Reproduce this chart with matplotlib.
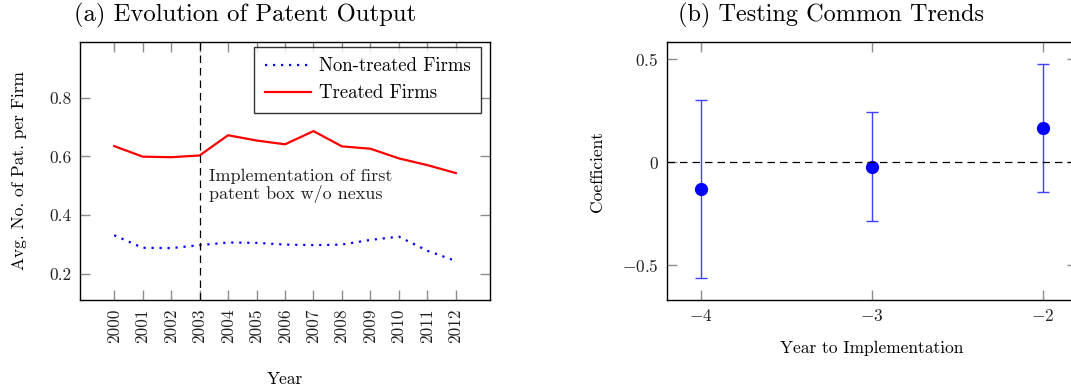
import matplotlib
matplotlib.use("Agg")
import matplotlib.pyplot as plt
import numpy as np

plt.rcParams["font.family"] = "serif"
plt.rcParams["font.serif"] = ["cmr10", "DejaVu Serif"]
plt.rcParams["mathtext.fontset"] = "cm"
plt.rcParams["axes.formatter.use_mathtext"] = True

# Panel (a) data
years = [2000, 2001, 2002, 2003, 2004, 2005, 2006, 2007, 2008, 2009, 2010, 2011, 2012]
non_treated = [0.331, 0.288, 0.287, 0.297, 0.306, 0.305, 0.299, 0.297, 0.299, 0.315, 0.326, 0.278, 0.243]
treated = [0.635, 0.599, 0.597, 0.603, 0.672, 0.654, 0.641, 0.686, 0.634, 0.626, 0.593, 0.570, 0.543]
impl_year = 2003

# Panel (b) data
rel_year = [-4, -3, -2]
coef = [-0.131, -0.021, 0.168]
ci_low = [-0.563, -0.285, -0.144]
ci_high = [0.302, 0.242, 0.479]

W, H = 1071, 388
fig = plt.figure(figsize=(W / 100, H / 100), dpi=100)

tick_grey = "#8c8c8c"
fs = 12.5


def style_axes(ax):
    ax.tick_params(direction="in", length=7.5, width=1, color=tick_grey,
                   top=True, right=True, labelsize=fs, labelcolor="#222222", pad=6)
    for s in ax.spines.values():
        s.set_linewidth(1.0)


# ---- panel (a)
ax1 = fig.add_axes([80 / W, 1 - 300 / H, 410 / W, 258 / H])
ax1.plot(years, non_treated, color="blue", lw=1.6, linestyle=(0, (1, 2.6)),
         label="Non-treated Firms")
ax1.plot(years, treated, color="red", lw=1.6, label="Treated Firms")
ax1.axvline(impl_year, color="black", lw=0.9, linestyle=(0, (6, 4)))
ax1.text(impl_year + 0.33, 0.50, "Implementation of first\npatent box w/o nexus",
         fontsize=fs + 0.5, color="#222222", va="center", ha="left", linespacing=1.05)
ax1.set_xlim(1998.8, 2013.2)
ax1.set_ylim(0.11, 0.99)
ax1.set_xticks(years)
ax1.set_xticklabels([str(y) for y in years], rotation=90)
ax1.set_yticks([0.2, 0.4, 0.6, 0.8])
ax1.set_yticklabels(["0.2", "0.4", "0.6", "0.8"])
style_axes(ax1)
ax1.set_xlabel("Year", fontsize=fs, labelpad=21)
ax1.set_ylabel("Avg. No. of Pat. per Firm", fontsize=fs, labelpad=16)
leg = ax1.legend(loc="upper right", fontsize=13.5, frameon=True, fancybox=False,
                 edgecolor="black", handlelength=2.5, handletextpad=0.4,
                 borderpad=0.55, labelspacing=0.5, bbox_to_anchor=(0.978, 0.981),
                 borderaxespad=0)
leg.get_frame().set_linewidth(1.0)
fig.text(245 / W, 1 - 15 / H, "(a) Evolution of Patent Output", fontsize=17.8,
         ha="center", va="center")

# ---- panel (b)
ax2 = fig.add_axes([667 / W, 1 - 300 / H, 410 / W, 258 / H])
yerr = [np.array(coef) - np.array(ci_low), np.array(ci_high) - np.array(coef)]
ax2.errorbar(rel_year, coef, yerr=yerr, fmt="none", ecolor="#4040ff",
             elinewidth=1.0, capsize=4, capthick=1.0)
ax2.plot(rel_year, coef, "o", color="blue", markersize=8.5)
ax2.axhline(0, color="black", lw=0.9, linestyle=(0, (6, 4)))
ax2.set_xlim(-4.2, -1.8)
ax2.set_ylim(-0.669, 0.584)
ax2.set_xticks(rel_year)
ax2.set_xticklabels(["$-4$", "$-3$", "$-2$"])
ax2.set_yticks([-0.5, 0, 0.5])
ax2.set_yticklabels(["$-0.5$", "$0$", "$0.5$"])
style_axes(ax2)
ax2.set_xlabel("Year to Implementation", fontsize=fs, labelpad=12)
ax2.set_ylabel("Coefficient", fontsize=fs, labelpad=12)
fig.text(831 / W, 1 - 15 / H, "(b) Testing Common Trends", fontsize=17.5,
         ha="center", va="center")

fig.savefig("out.png", dpi=100)
